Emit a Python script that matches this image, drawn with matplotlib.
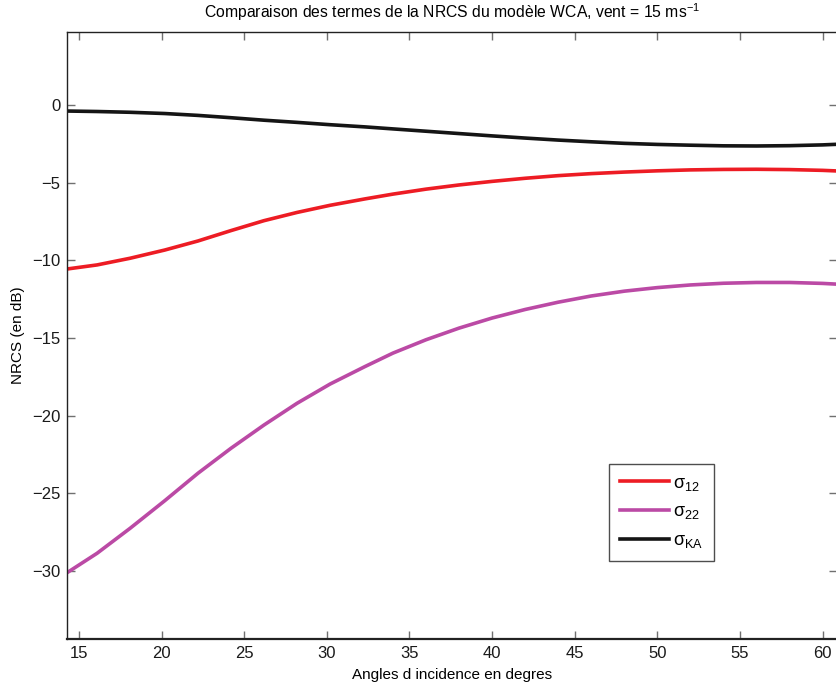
import matplotlib
matplotlib.use("Agg")
import matplotlib.pyplot as plt

plt.rcParams['font.family'] = ['Liberation Sans', 'DejaVu Sans']
plt.rcParams['mathtext.fontset'] = 'custom'
plt.rcParams['mathtext.rm'] = 'Liberation Sans'
plt.rcParams['mathtext.it'] = 'Liberation Sans'
plt.rcParams['mathtext.bf'] = 'Liberation Sans:bold'

angles = [14.3, 16.1, 18.1, 20.2, 22.2, 24.2, 26.2, 28.2, 30.2, 32.3,
          34, 36, 38, 40, 42, 44, 46, 48, 50, 52, 54, 56, 58, 60, 60.9]
sigma_12 = [-10.56, -10.30, -9.87, -9.34, -8.76, -8.09, -7.45, -6.92, -6.46, -6.05,
            -5.74, -5.42, -5.15, -4.92, -4.72, -4.55, -4.42, -4.32, -4.24, -4.18,
            -4.15, -4.14, -4.16, -4.21, -4.25]
sigma_22 = [-30.11, -28.87, -27.26, -25.48, -23.72, -22.11, -20.61, -19.21, -17.97, -16.85,
            -15.98, -15.12, -14.37, -13.72, -13.17, -12.70, -12.30, -11.99, -11.76, -11.59,
            -11.48, -11.43, -11.43, -11.49, -11.54]
sigma_ka = [-0.39, -0.42, -0.47, -0.55, -0.67, -0.82, -0.98, -1.12, -1.27, -1.41,
            -1.54, -1.69, -1.84, -1.99, -2.13, -2.26, -2.37, -2.47, -2.54, -2.59,
            -2.63, -2.64, -2.62, -2.57, -2.53]

xticks = [15, 20, 25, 30, 35, 40, 45, 50, 55, 60]
yticks = [-30, -25, -20, -15, -10, -5, 0]

fig = plt.figure(figsize=(8.36, 6.86), dpi=100)
ax = fig.add_axes([67.3/836, (686-638.7)/686, (837-67.3)/836, (638.7-32)/686])

ax.plot(angles, sigma_12, color='#ed1c24', lw=2.6, label=r'$\sigma_{12}$')
ax.plot(angles, sigma_22, color='#bb4aa5', lw=2.6, label=r'$\sigma_{22}$')
ax.plot(angles, sigma_ka, color='#151515', lw=2.6, label=r'$\sigma_{\mathrm{KA}}$')

ax.set_xlim(14.3, 60.87)
ax.set_ylim(-34.37, 4.7)
ax.set_xticks(xticks)
ax.set_yticks(yticks)
ax.tick_params(direction='in', length=6, width=1, color='#707070',
               top=True, right=True, labelsize=12, pad=5, labelcolor='#1a1a1a')
for s in ax.spines.values():
    s.set_color('#222222')
    s.set_linewidth(1.0)
ax.spines['bottom'].set_linewidth(1.6)

ax.set_title('Comparaison des termes de la NRCS du modèle WCA, vent = 15 ms$^{-1}$',
             fontsize=11.3, pad=10)
ax.set_xlabel('Angles d incidence en degres', fontsize=11, labelpad=5)
ax.set_ylabel('NRCS (en dB)', fontsize=11)
ax.yaxis.set_label_coords(-0.055, 0.5)

leg = ax.legend(loc='lower left', bbox_to_anchor=(0.704, 0.128), fontsize=13,
                frameon=True, fancybox=False, edgecolor='#222222',
                handlelength=2.7, borderpad=0.6, labelspacing=0.6,
                handletextpad=0.25, borderaxespad=0)
leg.get_frame().set_linewidth(1.0)

fig.savefig('out.png', dpi=100)
